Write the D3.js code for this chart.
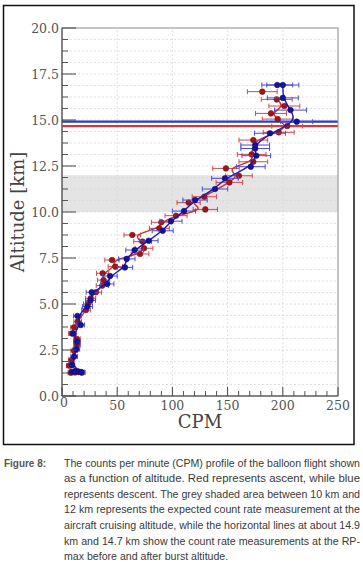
<!DOCTYPE html>
<html>
<head>
<meta charset="utf-8">
<script src="https://cdn.jsdelivr.net/npm/d3@7"></script>
<style>
  body { margin: 0; background: #fff; }
  svg { display: block; }
</style>
</head>
<body>
<svg id="chart" width="363" height="572"></svg>
<script>
// ascent (red): [altitude km, CPM, error]
const ascent = [
  [1.26, 8, 2.5], [1.28, 12, 3], [1.30, 15, 3], [1.27, 18, 3],
  [1.65, 6.6, 2.5], [1.96, 8.5, 2.5], [2.46, 11, 3], [2.77, 13.6, 3],
  [3.10, 13.6, 3], [3.40, 9, 3], [3.73, 10.9, 3], [4.04, 14.2, 3.5],
  [4.67, 21.7, 4], [5.00, 23.5, 4], [5.31, 26, 4.5], [5.64, 30.8, 5],
  [6.00, 36.5, 5.5], [6.30, 37.6, 5.5], [6.67, 36.8, 5.5], [7.03, 48.3, 6.5],
  [7.39, 45.3, 6.5], [7.72, 70.7, 8], [8.03, 74.3, 8], [8.39, 73, 8],
  [8.75, 63.7, 7.5], [9.11, 88.2, 9], [9.44, 90, 9], [9.80, 103.3, 10],
  [10.14, 129.8, 11], [10.51, 114.7, 10.5], [10.83, 128.9, 11], [11.61, 151.6, 12],
  [11.97, 160.3, 12], [12.37, 148.5, 12], [12.73, 173.3, 13], [13.13, 171.8, 13],
  [13.91, 173.3, 13], [14.33, 196.3, 14], [14.67, 204, 14], [15.05, 195.4, 14],
  [15.36, 189.3, 14], [15.76, 201.4, 14], [16.12, 194.5, 14], [16.54, 181.4, 13.5]
];
// descent (blue): [altitude km, CPM, error]
const descent = [
  [1.32, 9, 2.5], [1.35, 12, 3], [1.33, 15, 3], [1.30, 17.5, 3],
  [1.69, 9, 2.5], [2.14, 11, 3], [2.54, 13, 3], [2.95, 13.6, 3],
  [3.40, 10, 3], [3.86, 17, 3.5], [4.35, 14, 3.5], [4.86, 23, 4.5],
  [5.20, 25.8, 4.5], [5.64, 26.9, 5], [6.09, 41, 6], [6.52, 43.5, 6.5],
  [6.99, 57, 7], [7.45, 58.6, 7.5], [7.93, 65.8, 8], [8.44, 78.5, 8.5],
  [8.98, 91.2, 9.5], [9.50, 98.7, 10], [10.05, 110.5, 10.5], [10.65, 120.5, 11],
  [11.25, 138.6, 11.5], [11.83, 147.6, 12], [12.46, 171, 13], [13.06, 176, 13],
  [13.45, 175, 13], [13.64, 175, 13], [14.28, 188.4, 14], [14.91, 212.6, 14.5],
  [15.54, 207, 14.5], [16.20, 200, 14], [16.90, 200, 14.5], [16.90, 195, 14]
];
// horizontal reference lines (RP-max before / after burst) and aircraft band
const rpMaxAscent = 14.67;
const rpMaxDescent = 14.91;
const cruiseBand = [10, 12];
const xTicks = [0, 50, 100, 150, 200, 250];
const yTicks = [0, 2.5, 5, 7.5, 10, 12.5, 15, 17.5, 20];

const captionLines = [
  "The counts per minute (CPM) profile of the balloon flight shown",
  "as a function of altitude. Red represents ascent, while blue",
  "represents descent. The grey shaded area between 10 km and",
  "12 km represents the expected count rate measurement at the",
  "aircraft cruising altitude, while the horizontal lines at about 14.9",
  "km and 14.7 km show the count rate measurements at the RP-",
  "max before and after burst altitude."
];

const RED = "#d42a2a", RED_DOT = "#a01616", RED_BAR = "#d24a4a";
const BLUE = "#1a1ac4", BLUE_DOT = "#14149a", BLUE_BAR = "#4a4ad8";

const svg = d3.select("#chart");
const pL = 62, pR = 338, pT = 28, pB = 396;

// outer frame
svg.append("rect").attr("x", 3.5).attr("y", 5.5).attr("width", 350.5).attr("height", 439)
  .attr("fill", "none").attr("stroke", "#111").attr("stroke-width", 1.5);

const x = d3.scaleLinear().domain([0, 250]).range([pL, pR]);
const y = d3.scaleLinear().domain([0, 20]).range([pB, pT]);

const plot = svg.append("g");

// grey band
plot.append("rect")
  .attr("x", x(0)).attr("width", x(250) - x(0))
  .attr("y", y(cruiseBand[1])).attr("height", y(cruiseBand[0]) - y(cruiseBand[1]))
  .attr("fill", "#e4e4e4");

// grid
const yMinor = d3.range(0, 20.001, 0.625);
plot.selectAll(".hg").data(yMinor.filter(d => d > 0 && d < 20)).enter().append("line")
  .attr("x1", x(0)).attr("x2", x(250)).attr("y1", d => y(d)).attr("y2", d => y(d))
  .attr("stroke", "#d8d8d8").attr("stroke-width", 0.8).attr("stroke-dasharray", "2,2");
plot.selectAll(".vg").data(xTicks.filter(d => d > 0 && d < 250)).enter().append("line")
  .attr("y1", y(0)).attr("y2", y(20)).attr("x1", d => x(d)).attr("x2", d => x(d))
  .attr("stroke", "#d8d8d8").attr("stroke-width", 0.8).attr("stroke-dasharray", "2,2");

// reference lines
plot.append("line").attr("x1", x(0)).attr("x2", x(250))
  .attr("y1", y(rpMaxAscent)).attr("y2", y(rpMaxAscent))
  .attr("stroke", "#d23838").attr("stroke-width", 2.2);
plot.append("line").attr("x1", x(0)).attr("x2", x(250))
  .attr("y1", y(rpMaxDescent)).attr("y2", y(rpMaxDescent))
  .attr("stroke", "#2c3cc8").attr("stroke-width", 2.2);

function drawSeries(data, lineData, lineCol, dotCol, barCol) {
  const g = plot.append("g");
  const bars = g.selectAll(".eb").data(data).enter().append("g");
  bars.append("line")
    .attr("x1", d => x(d[1] - d[2])).attr("x2", d => x(d[1] + d[2]))
    .attr("y1", d => y(d[0])).attr("y2", d => y(d[0]))
    .attr("stroke", barCol).attr("stroke-width", 1);
  [-1, 1].forEach(s => {
    bars.append("line")
      .attr("x1", d => x(d[1] + s * d[2])).attr("x2", d => x(d[1] + s * d[2]))
      .attr("y1", d => y(d[0]) - 2.5).attr("y2", d => y(d[0]) + 2.5)
      .attr("stroke", barCol).attr("stroke-width", 1);
  });
  const line = d3.line().x(d => x(d[1])).y(d => y(d[0])).curve(d3.curveBasis);
  g.append("path").datum(lineData).attr("d", line)
    .attr("fill", "none").attr("stroke", lineCol).attr("stroke-width", 1.4);
  g.selectAll("circle").data(data).enter().append("circle")
    .attr("cx", d => x(d[1])).attr("cy", d => y(d[0])).attr("r", 2.8)
    .attr("fill", dotCol).attr("stroke", d3.color(dotCol).darker(0.8)).attr("stroke-width", 0.6);
}

const ascLine = ascent.slice(3, ascent.length - 1);
const descLine = descent.slice(3, descent.length - 1);
drawSeries(ascent, ascLine, RED, RED_DOT, RED_BAR);
drawSeries(descent, descLine, BLUE, BLUE_DOT, BLUE_BAR);

// frame of plot
plot.append("rect").attr("x", x(0)).attr("y", y(20)).attr("width", x(250) - x(0)).attr("height", y(0) - y(20))
  .attr("fill", "none").attr("stroke", "#8a8a8a").attr("stroke-width", 1);
plot.append("line").attr("x1", x(0)).attr("x2", x(0)).attr("y1", y(0)).attr("y2", y(20))
  .attr("stroke", "#444").attr("stroke-width", 1);
plot.append("line").attr("x1", x(0)).attr("x2", x(250)).attr("y1", y(0)).attr("y2", y(0))
  .attr("stroke", "#444").attr("stroke-width", 1);

// ticks (inward)
plot.selectAll(".ymin").data(yMinor.filter(d => !yTicks.includes(d))).enter().append("line")
  .attr("x1", x(0)).attr("x2", x(0) + 6).attr("y1", d => y(d)).attr("y2", d => y(d))
  .attr("stroke", "#555").attr("stroke-width", 1);
plot.selectAll(".ymaj").data(yTicks).enter().append("line")
  .attr("x1", x(0)).attr("x2", x(0) + 14).attr("y1", d => y(d)).attr("y2", d => y(d))
  .attr("stroke", "#444").attr("stroke-width", 1);
const xMinor = d3.range(0, 250.001, 10).filter(d => !xTicks.includes(d));
plot.selectAll(".xmin").data(xMinor).enter().append("line")
  .attr("x1", d => x(d)).attr("x2", d => x(d)).attr("y1", y(0)).attr("y2", y(0) - 5)
  .attr("stroke", "#555").attr("stroke-width", 1);
plot.selectAll(".xmaj").data(xTicks).enter().append("line")
  .attr("x1", d => x(d)).attr("x2", d => x(d)).attr("y1", y(0)).attr("y2", y(0) - 9)
  .attr("stroke", "#444").attr("stroke-width", 1);

const serif = "'DejaVu Serif', 'Liberation Serif', serif";
const fmt = d3.format(".1f");
svg.selectAll(".yl").data(yTicks).enter().append("text")
  .attr("x", x(0) - 3).attr("y", d => y(d) + 4.5)
  .attr("text-anchor", "end").attr("font-family", serif).attr("font-size", 12.5)
  .attr("fill", "#555").text(d => fmt(d));
svg.selectAll(".xl").data(xTicks).enter().append("text")
  .attr("x", d => x(d) + (d === 0 ? 2 : 0)).attr("y", d => y(0) + (d === 0 ? 11 : 14))
  .attr("text-anchor", "middle").attr("font-family", serif).attr("font-size", 12.5)
  .attr("fill", "#555").text(d => d);

svg.append("text").attr("x", (pL + pR) / 2).attr("y", 428)
  .attr("text-anchor", "middle").attr("font-family", serif).attr("font-size", 18)
  .attr("fill", "#444").text("CPM");
svg.append("text").attr("transform", `translate(24,${(pT + pB) / 2}) rotate(-90)`)
  .attr("text-anchor", "middle").attr("font-family", serif).attr("font-size", 18)
  .attr("fill", "#444").text("Altitude [km]");

// caption (condensed sans, justified by textLength)
const sans = "'Liberation Sans', Arial, sans-serif";
const capX = 64, capW = 296, capY = 466.5, capLH = 15.6;
svg.append("text").attr("x", 4).attr("y", capY)
  .attr("font-family", sans).attr("font-size", 11.5).attr("font-weight", "bold")
  .attr("fill", "#555").attr("textLength", 42).attr("lengthAdjust", "spacingAndGlyphs")
  .text("Figure 8:");
const capText = svg.selectAll(".cap").data(captionLines).enter().append("text")
  .attr("x", capX).attr("y", (d, i) => capY + i * capLH)
  .attr("font-family", sans).attr("font-size", 11.5).attr("fill", "#3a3a3a")
  .text(d => d);
const natural = capText.nodes().map(n => n.getComputedTextLength());
const squeeze = capW / natural[0];
capText
  .attr("textLength", (d, i) => i === captionLines.length - 1 ? natural[i] * squeeze : capW)
  .attr("lengthAdjust", "spacingAndGlyphs");
</script>
</body>
</html>
